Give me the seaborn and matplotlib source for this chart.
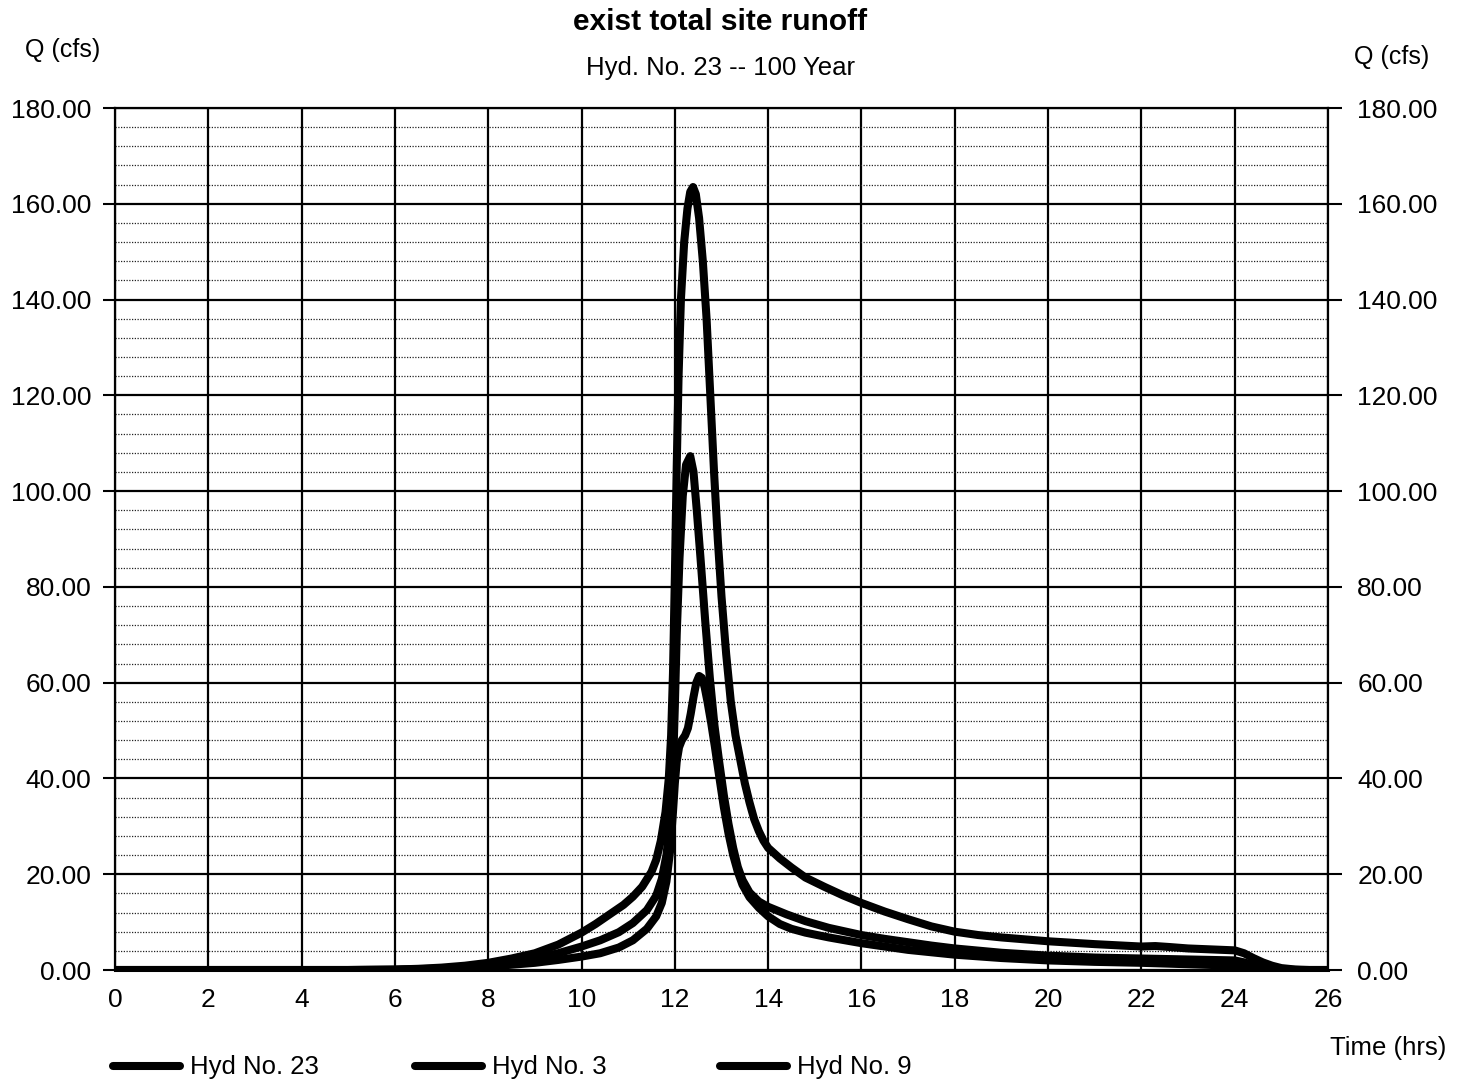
import matplotlib
matplotlib.use("Agg")
import matplotlib.pyplot as plt
import seaborn as sns
import numpy as np
import pandas as pd
from matplotlib.lines import Line2D
from matplotlib.ticker import FormatStrFormatter, MultipleLocator

# ---------------- data ----------------
title = "exist total site runoff"
subtitle = "Hyd. No. 23 -- 100 Year"
series_names = ["Hyd No. 23", "Hyd No. 3", "Hyd No. 9"]

hyd23_t = [0, 5, 6, 6.5, 7, 7.5, 8, 8.5, 9, 9.5, 10, 10.3, 10.6, 10.9, 11.1, 11.3,
           11.5, 11.6, 11.7, 11.8, 11.87, 11.92, 11.96, 12.0, 12.04, 12.08, 12.13,
           12.2, 12.27, 12.33, 12.39, 12.45, 12.52, 12.6, 12.68, 12.76, 12.84,
           12.92, 13.0, 13.1, 13.2, 13.3, 13.4, 13.5, 13.6, 13.7, 13.8, 13.9,
           14.0, 14.25, 14.5, 14.8, 15.2, 15.6, 16, 16.5, 17, 17.5, 18, 18.5,
           19, 19.5, 20, 21, 22, 22.3, 22.6, 23, 23.5, 24, 24.2, 24.4, 24.6,
           24.8, 25, 25.3, 25.6, 26]
hyd23_q = [0, 0, 0.1, 0.25, 0.5, 0.9, 1.5, 2.4, 3.5, 5.3, 7.8, 9.6, 11.6, 13.6, 15.3, 17.4,
           20.5, 23, 27, 33, 40, 49, 62, 82, 105, 124, 140,
           152, 159, 162.5, 163.5, 162, 157, 148, 136, 120, 104,
           90, 78, 66, 56, 49, 44, 39, 35, 31.5, 29, 27,
           25.5, 23.3, 21.4, 19.3, 17.4, 15.6, 14, 12.2, 10.6, 9.1, 8.0, 7.3,
           6.8, 6.4, 6.0, 5.4, 4.9, 5.0, 4.8, 4.5, 4.3, 4.1, 3.5, 2.5, 1.6,
           0.9, 0.4, 0.1, 0, 0]

hyd3_t = [0, 5, 6, 7, 7.5, 8, 8.5, 9, 9.5, 10, 10.4, 10.8, 11.1, 11.4, 11.6, 11.72,
          11.82, 11.9, 11.96, 12.0, 12.04, 12.1, 12.17, 12.24, 12.33, 12.4, 12.47,
          12.55, 12.65, 12.75, 12.85, 12.95, 13.05, 13.15, 13.25, 13.35, 13.45,
          13.6, 13.8, 14.0, 14.4, 14.8, 15.3, 16, 16.5, 17, 17.5, 18, 19, 20,
          21, 22, 23, 24, 24.2, 24.5, 24.8, 25, 25.4, 26]
hyd3_q = [0, 0, 0.05, 0.3, 0.6, 1.0, 1.6, 2.4, 3.5, 4.9, 6.2, 7.9, 9.8, 12.5, 15.5, 19,
          24, 31, 42, 55, 70, 86, 99, 105.5, 107.3, 104, 96,
          86, 73, 61, 51, 43.5, 36.5, 30.5, 25.5, 21.5, 18.8,
          16.2, 14.3, 13.2, 11.6, 10.2, 8.8, 7.3, 6.5, 5.8, 5.1, 4.5, 3.6, 3.0,
          2.6, 2.4, 2.2, 2.0, 1.6, 0.8, 0.3, 0.1, 0, 0]

hyd9_t = [0, 5, 6, 7, 7.5, 8, 8.5, 9, 9.5, 10, 10.4, 10.8, 11.1, 11.4, 11.6, 11.72,
          11.82, 11.9, 11.96, 12.0, 12.04, 12.09, 12.15, 12.22, 12.28, 12.34, 12.4,
          12.46, 12.52, 12.58, 12.64, 12.7, 12.78, 12.86, 12.95, 13.05, 13.15,
          13.25, 13.35, 13.45, 13.6, 13.8, 14.0, 14.25, 14.5, 14.8, 15.3, 16,
          16.5, 17, 17.5, 18, 19, 20, 21, 22, 23, 24, 24.3, 24.6, 25, 26]
hyd9_q = [0, 0, 0.02, 0.2, 0.4, 0.7, 1.1, 1.5, 2.1, 2.8, 3.5, 4.7, 6.2, 8.6, 11.2, 14,
          18.5, 25, 33, 39, 43.5, 46.5, 48, 49, 50.5, 53.5, 57,
          60, 61.4, 61, 59, 56, 51.5, 46.5, 40.5, 34, 28.5,
          24, 20.5, 17.8, 15.2, 13, 11.2, 9.6, 8.6, 7.8, 6.8, 5.6,
          4.9, 4.2, 3.7, 3.2, 2.5, 2.0, 1.7, 1.5, 1.2, 0.9, 0.5, 0.2, 0, 0]

x_ticks = list(range(0, 27, 2))
y_ticks = list(range(0, 181, 20))

# ---------------- figure ----------------
sns.set_theme(style="white")
plt.rcParams["font.family"] = ["Liberation Sans", "DejaVu Sans"]
plt.rcParams["text.color"] = "black"
plt.rcParams["xtick.color"] = "black"
plt.rcParams["ytick.color"] = "black"

W, H = 1465, 1081
fig = plt.figure(figsize=(W / 100, H / 100), dpi=100)
ax = fig.add_axes([115 / W, 1 - 970 / H, (1328 - 115) / W, (970 - 108) / H])

frames = []
for name, t, q in [(series_names[0], hyd23_t, hyd23_q),
                   (series_names[1], hyd3_t, hyd3_q),
                   (series_names[2], hyd9_t, hyd9_q)]:
    frames.append(pd.DataFrame({"Time": t, "Q": q, "Hyd": name}))
df = pd.concat(frames, ignore_index=True)

LW = 5.8
for name in series_names:
    sub = df[df["Hyd"] == name]
    sns.lineplot(data=sub, x="Time", y="Q", ax=ax, color="black", lw=LW,
                 estimator=None, sort=False, legend=False,
                 solid_capstyle="round", solid_joinstyle="round", zorder=5)

ax.set_xlim(0, 26)
ax.set_ylim(0, 180)

# grid
ax.yaxis.set_minor_locator(MultipleLocator(4))
ax.set_xticks(x_ticks)
ax.set_yticks(y_ticks)
ax.grid(which="major", axis="both", color="black", lw=1.6, ls="-", zorder=1)
ax.grid(which="minor", axis="y", color="#222222", lw=0.9, ls=(0, (1, 1.2)), zorder=1)

for s in ax.spines.values():
    s.set_color("black")
    s.set_linewidth(1.6)
ax.spines["bottom"].set_linewidth(2.2)

ax.yaxis.set_major_formatter(FormatStrFormatter("%.2f"))
ax.tick_params(axis="y", which="major", left=True, length=9, width=1.5,
               color="black", labelsize=19, pad=8, labelcolor="black")
ax.tick_params(axis="y", which="minor", left=False, right=False, length=0)
ax.tick_params(axis="x", which="both", bottom=False, length=0, labelsize=19,
               pad=13, labelcolor="black")
ax.set_xlabel("")
ax.set_ylabel("")

ax2 = ax.twinx()
ax2.set_ylim(0, 180)
ax2.set_yticks(y_ticks)
ax2.yaxis.set_major_formatter(FormatStrFormatter("%.2f"))
ax2.tick_params(axis="y", which="major", right=True, length=10, width=1.5,
                color="black", labelsize=19, pad=11, labelcolor="black")
ax2.tick_params(axis="y", which="minor", right=False, length=0)
ax2.grid(False)
for s in ax2.spines.values():
    s.set_visible(False)

# texts
fig.text(720 / W, 1 - 22 / H, title, ha="center", va="center",
         fontsize=21.5, fontweight="bold")
fig.text(720 / W, 1 - 68 / H, subtitle, ha="center", va="center", fontsize=18.5)
fig.text(63 / W, 1 - 50 / H, "Q (cfs)", ha="center", va="center", fontsize=18)
fig.text(1392 / W, 1 - 57 / H, "Q (cfs)", ha="center", va="center", fontsize=18)
fig.text(1388 / W, 1 - 1048 / H, "Time (hrs)", ha="center", va="center", fontsize=18.5)

# legend (one entry per series, placed like the reference)
legend_x = [113, 415, 720]
legend_y = 1066
for name, x0 in zip(series_names, legend_x):
    fig.add_artist(Line2D([x0 / W, (x0 + 67) / W], [1 - legend_y / H] * 2,
                          color="black", lw=LW, solid_capstyle="round",
                          transform=fig.transFigure))
    fig.text((x0 + 77) / W, 1 - (legend_y + 1) / H, name, ha="left",
             va="center", fontsize=18.5)

fig.savefig("out.png", dpi=100, facecolor="white")
